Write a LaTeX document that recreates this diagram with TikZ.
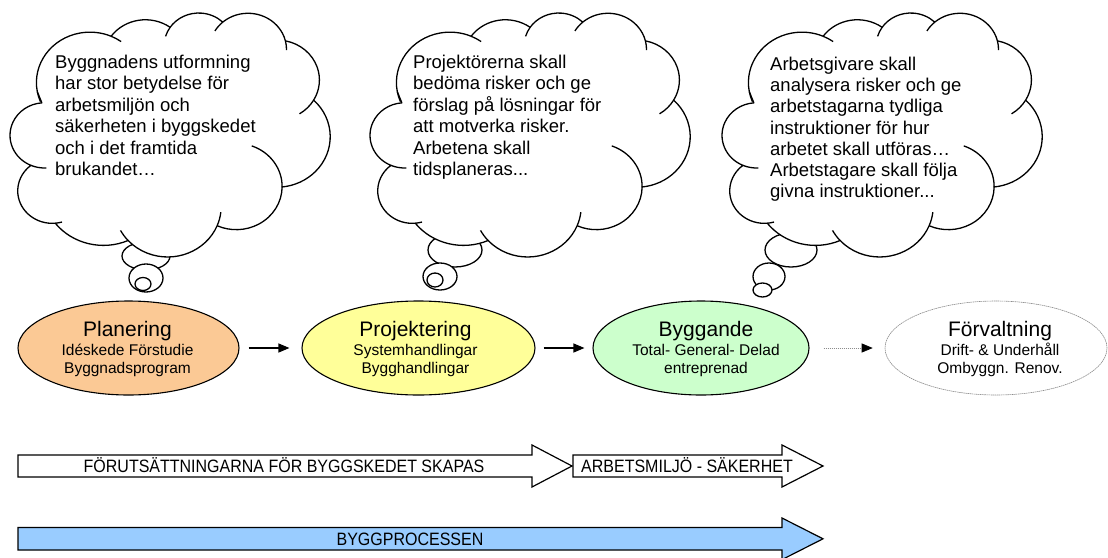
\documentclass[tikz,border=0pt]{standalone}
\usepackage{fontspec}
\setmainfont{Liberation Sans}
\usetikzlibrary{shapes.geometric,arrows.meta}
\definecolor{planfill}{HTML}{FBC995}
\definecolor{projfill}{HTML}{FFFF99}
\definecolor{byggfill}{HTML}{CCFFCC}
\definecolor{procfill}{HTML}{99CCFF}
\definecolor{dotgray}{HTML}{8C8C8C}

\tikzset{
  cloudline/.style={draw=black, line width=1.3pt, fill=white, line join=round},
  cloudinner/.style={draw=black, line width=1.3pt},
  bubble/.style={ellipse, draw=black, line width=1.3pt, fill=white, inner sep=0pt},
  thoughttext/.style={anchor=north west, inner sep=0pt, align=left, font=\fontsize{18.5}{21.5}\selectfont},
  phase/.style={ellipse, draw=black, line width=1.1pt, inner sep=0pt, minimum height=94pt},
  phasetitle/.style={anchor=base, inner sep=0pt, font=\fontsize{21}{24}\selectfont},
  phasesub/.style={anchor=base, inner sep=0pt, font=\fontsize{15.5}{18}\selectfont},
  flow/.style={-{Triangle[length=11pt,width=9pt]}, line width=1.1pt},
  faintflow/.style={-{Triangle[length=11pt,width=9pt,color=black]}, draw=dotgray, line width=0.7pt, dash pattern=on 1pt off 1pt},
  band/.style={draw=black, line width=1.2pt, line join=miter},
  bandtext/.style={inner sep=0pt, anchor=base, font=\fontsize{16}{19}\selectfont},
}

\newcommand\tallcaps[1]{\scalebox{1}[1.12]{#1}}

\newcommand\thoughtcloud[3]{%
\begin{scope}[shift={(#1,#2)},xscale=0.7928,yscale=0.5486]
\draw[cloudline] (39.00,143.70) coordinate (#3p0)
 arc[start angle=-190.4875, delta angle=123.7805, x radius=67.53, y radius=91.90] coordinate (#3p1)
 arc[start angle=-144.1024, delta angle=89.9452, x radius=53.33, y radius=72.67] coordinate (#3p2)
 arc[start angle=-145.8079, delta angle=99.7230, x radius=43.65, y radius=59.45] coordinate (#3p3)
 arc[start angle=-130.9861, delta angle=117.2417, x radius=48.57, y radius=65.95] coordinate (#3p4)
 arc[start angle=-78.7089, delta angle=109.0269, x radius=53.33, y radius=72.73] coordinate (#3p5)
 arc[start angle=-46.2673, delta angle=130.2690, x radius=67.75, y radius=92.20] coordinate (#3p6)
 arc[start angle=0.6250, delta angle=114.0333, x radius=57.85, y radius=78.67] coordinate (#3p7)
 arc[start angle=22.4516, delta angle=115.1726, x radius=67.52, y radius=92.15] coordinate (#3p8)
 arc[start angle=66.2426, delta angle=75.7110, x radius=77.20, y radius=105.43] coordinate (#3p9)
 arc[start angle=-274.9421, delta angle=146.7356, x radius=43.60, y radius=59.18] coordinate (#3p10)
 arc[start angle=-246.8285, delta angle=152.5189, x radius=43.45, y radius=59.45] -- cycle;
\draw[cloudinner]
 (#3p0) arc[start angle=-190.4875, delta angle=-11.8605, x radius=67.53, y radius=91.90]
 (#3p1) arc[start angle=-66.7070, delta angle=12.3194, x radius=67.53, y radius=91.90]
 (#3p2) arc[start angle=-145.8079, delta angle=-17.6864, x radius=43.65, y radius=59.45]
 (#3p3) arc[start angle=-130.9861, delta angle=-18.1954, x radius=48.57, y radius=65.95]
 (#3p4) arc[start angle=-13.7443, delta angle=14.8589, x radius=48.57, y radius=65.95]
 (#3p5) arc[start angle=30.3180, delta angle=27.7515, x radius=53.33, y radius=72.73]
 (#3p6) arc[start angle=0.6250, delta angle=-70.9174, x radius=57.85, y radius=78.67]
 (#3p7) arc[start angle=22.4516, delta angle=-15.9984, x radius=67.52, y radius=92.15]
 (#3p8) arc[start angle=137.6242, delta angle=14.0811, x radius=67.52, y radius=92.15]
 (#3p9) arc[start angle=-274.9421, delta angle=-11.4475, x radius=43.60, y radius=59.18]
 (#3p10) arc[start angle=-246.8285, delta angle=-26.4295, x radius=43.45, y radius=59.45];
\end{scope}}

\begin{document}
\begin{tikzpicture}[x=1pt,y=1pt,yscale=-1]
\useasboundingbox (0,0) rectangle (1108,557);

% ---------- thought bubbles (tails) ----------
\node[bubble, minimum width=48pt, minimum height=28pt] (tA1) at (146,256) {};
\node[bubble, minimum width=34pt, minimum height=28pt] (tA2) at (146,278) {};
\node[bubble, minimum width=16pt, minimum height=13pt] (tA3) at (143,284) {};

\node[bubble, minimum width=54pt, minimum height=34pt] (tB1) at (455,250) {};
\node[bubble, minimum width=34pt, minimum height=27pt] (tB2) at (440,276.5) {};
\node[bubble, minimum width=16pt, minimum height=14pt] (tB3) at (435,280) {};

\node[bubble, minimum width=52pt, minimum height=34pt] (tC1) at (791,250) {};
\node[bubble, minimum width=32pt, minimum height=27pt] (tC2) at (769,276.5) {};
\node[bubble, minimum width=19pt, minimum height=14pt] (tC3) at (762.5,290) {};

% ---------- clouds ----------
\thoughtcloud{6.4}{12.9}{A}
\thoughtcloud{366.4}{12.9}{B}
\thoughtcloud{718.4}{12.9}{C}

\node[thoughttext] (cloudA) at (55,53) {\strut Byggnadens utformning\\har stor betydelse för\\arbetsmiljön och\\säkerheten i byggskedet\\och i det framtida\\brukandet…};
\node[thoughttext] (cloudB) at (413,53) {\strut Projektörerna skall\\bedöma risker och ge\\förslag på lösningar för\\att motverka risker.\\Arbetena skall\\tidsplaneras...};
\node[thoughttext, font=\fontsize{18.5}{21.3}\selectfont] (cloudC) at (770,55) {\strut Arbetsgivare skall\\analysera risker och ge\\arbetstagarna tydliga\\instruktioner för hur\\arbetet skall utföras…\\Arbetstagare skall följa\\givna instruktioner...};

% ---------- phases ----------
\node[phase, fill=planfill, minimum width=221pt] (plan) at (128.5,348) {};
\node[phase, fill=projfill, minimum width=233pt] (proj) at (418.5,348) {};
\node[phase, fill=byggfill, minimum width=216pt] (bygg) at (701,348) {};
\node[phase, fill=white, draw=dotgray, line width=0.6pt, dash pattern=on 1.5pt off 0.6pt, minimum width=222pt] (forv) at (996,348) {};

\node[phasetitle] (planT) at (127.5,336) {Planering};
\node[phasesub] (planS1) at (127.5,355) {Idéskede Förstudie};
\node[phasesub] (planS2) at (127.5,373) {Byggnadsprogram};

\node[phasetitle] (projT) at (415.5,336) {Projektering};
\node[phasesub] (projS1) at (415.5,355) {Systemhandlingar};
\node[phasesub] (projS2) at (415.5,373) {Bygghandlingar};

\node[phasetitle] (byggT) at (706,336) {Byggande};
\node[phasesub] (byggS1) at (706,355) {Total- General- Delad};
\node[phasesub] (byggS2) at (706,373) {entreprenad};

\node[phasetitle] (forvT) at (1000,336) {Förvaltning};
\node[phasesub] (forvS1) at (1000,355) {Drift- \& Underhåll};
\node[phasesub] (forvS2) at (1000,373) {Ombyggn. Renov.};

\draw[flow, shorten <=9pt, shorten >=12pt] (plan) -- (proj);
\draw[flow, shorten <=8pt, shorten >=8pt] (proj) -- (bygg);
\draw[faintflow, shorten <=14pt, shorten >=12pt] (bygg) -- (forv);

% ---------- bands ----------
\draw[band, fill=white] (18,455) -- (532,455) -- (532,445) -- (572,466) -- (532,487) -- (532,477) -- (18,477) -- cycle;
\draw[band, fill=white] (573,455) -- (782,455) -- (782,445) -- (823,466) -- (782,487) -- (782,477) -- (573,477) -- cycle;
\draw[band, fill=procfill] (18,527.5) -- (782,527.5) -- (782,518) -- (823,538.8) -- (782,559.6) -- (782,550) -- (18,550) -- cycle;

\node[bandtext] (bandA) at (284,472) {\tallcaps{FÖRUTSÄTTNINGARNA FÖR BYGGSKEDET SKAPAS}};
\node[bandtext] (bandB) at (687,472) {\tallcaps{ARBETSMILJÖ - SÄKERHET}};
\node[bandtext] (bandC) at (410,545) {\tallcaps{BYGGPROCESSEN}};
\end{tikzpicture}
\end{document}
